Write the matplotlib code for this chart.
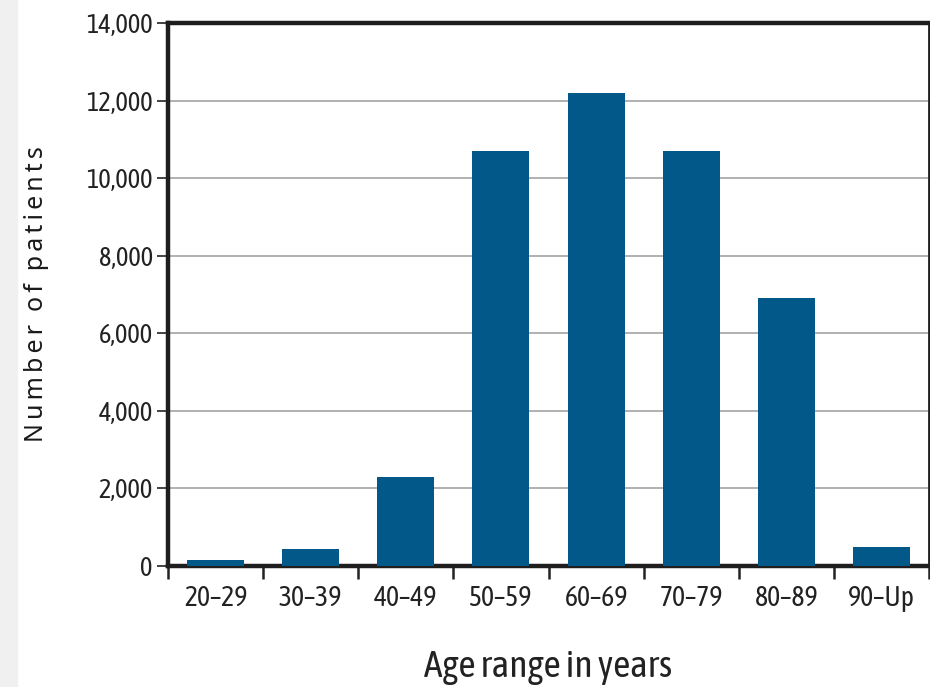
import matplotlib
matplotlib.use("Agg")
import matplotlib.pyplot as plt
from matplotlib.patches import Rectangle

categories = ["20\u201329", "30\u201339", "40\u201349", "50\u201359", "60\u201369", "70\u201379", "80\u201389", "90\u2013Up"]
patients = [150, 450, 2300, 10700, 12200, 10700, 6900, 500]
y_ticks = [0, 2000, 4000, 6000, 8000, 10000, 12000, 14000]

COND = ["Asap Condensed", "DejaVu Sans"]

fig = plt.figure(figsize=(9.3, 6.87), dpi=100)
fig.patches.append(Rectangle((0, 0), 17 / 930, 1, transform=fig.transFigure,
                             color="#f0f0f0", zorder=-5))
ax = fig.add_axes([168 / 930, 1 - 566 / 687, (929 - 168) / 930, (566 - 23) / 687])

x = list(range(len(categories)))
ax.bar(x, patients, width=0.6, color="#03588a", zorder=3)
ax.set_xlim(-0.5, len(categories) - 0.5)
ax.set_ylim(0, 14000)
ax.set_yticks(y_ticks)
ax.set_yticklabels([f"{v:,}" for v in y_ticks], fontfamily=COND, fontweight="normal", fontsize=19, color="#222222")
ax.set_xticks(x)
ax.set_xticklabels(categories, fontfamily=COND, fontweight="normal", fontsize=20, color="#222222")
ax.tick_params(axis="x", length=0, pad=14)
ax.set_xticks([i - 0.5 for i in range(len(categories) + 1)], minor=True)
ax.tick_params(axis="x", which="minor", length=9, width=1.8, color="#222222", direction="out")
ax.tick_params(axis="y", length=8, width=1.2, color="#222222", pad=3)
ax.yaxis.grid(True, color="#aaaaaa", linewidth=1.3, zorder=0)
ax.set_axisbelow(True)

for side in ["left", "top", "bottom"]:
    ax.spines[side].set_linewidth(3.2)
    ax.spines[side].set_color("#1e1e1e")
ax.spines["right"].set_linewidth(2)
ax.spines["right"].set_color("#1e1e1e")

ax.set_ylabel("N\u2009u\u2009m\u2009b\u2009e\u2009r  o\u2009f  p\u2009a\u2009t\u2009i\u2009e\u2009n\u2009t\u2009s", fontsize=18,
              fontfamily=["Noto Sans", "DejaVu Sans"], fontweight="medium", color="#1a1a1a")
ax.yaxis.set_label_coords(-0.156, 0.5)
ax.set_xlabel("Age range in years", fontsize=27, fontfamily=COND, fontweight="normal", color="#222222")
ax.xaxis.set_label_coords(0.5, -0.152)

fig.savefig("out.png", dpi=100)
